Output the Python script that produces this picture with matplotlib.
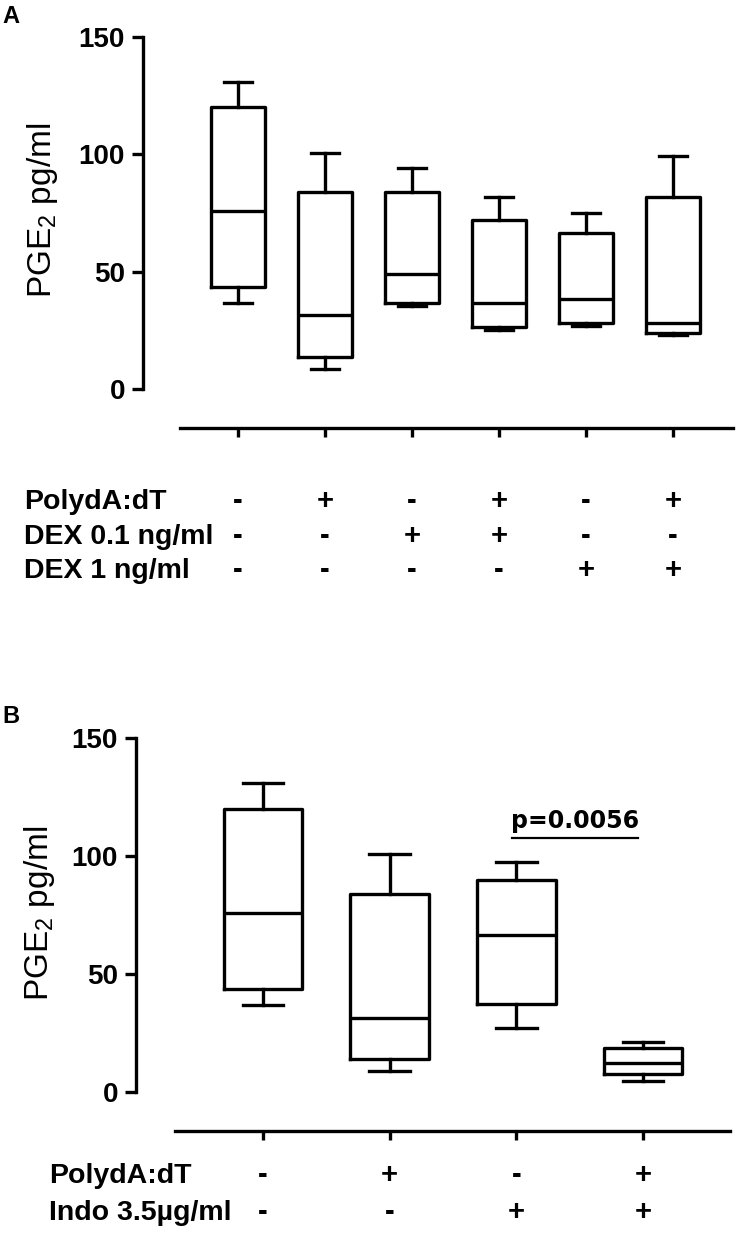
import matplotlib
matplotlib.use('Agg')
import matplotlib.pyplot as plt
import matplotlib.transforms as mtrans

plt.rcParams['font.family'] = ['Liberation Sans', 'DejaVu Sans']
plt.rcParams['mathtext.default'] = 'regular'

# ---------------- data ----------------
# Panel A
whishi_A = [131, 100.5, 94, 82, 75, 99.5]
q3_A = [120, 84, 84, 72, 66.5, 82]
med_A = [76, 31.5, 49, 36.5, 38.5, 28]
q1_A = [43.5, 13.5, 36.5, 26.5, 28, 24]
whislo_A = [36.5, 8.5, 35.5, 25, 27, 23]
rows_A = ['PolydA:dT', 'DEX 0.1 ng/ml', 'DEX 1 ng/ml']
signs_A = [['-', '+', '-', '+', '-', '+'],
           ['-', '-', '+', '+', '-', '-'],
           ['-', '-', '-', '-', '+', '+']]

# Panel B
whishi_B = [131, 101, 97.5, 21]
q3_B = [120, 84, 90, 18.5]
med_B = [76, 31.5, 66.5, 12.5]
q1_B = [43.5, 14, 37.5, 7.5]
whislo_B = [37, 9, 27, 4.5]
rows_B = ['PolydA:dT', 'Indo 3.5µg/ml']
signs_B = [['-', '+', '-', '+'],
           ['-', '-', '+', '+']]
p_text = 'p=0.0056'
p_pair = (2, 3)

yticks = [0, 50, 100, 150]
ylabel = 'PGE$_2$ pg/ml'

# ---------------- layout ----------------
W, H = 739, 1238
DPI = 100
fig = plt.figure(figsize=(W / DPI, H / DPI), dpi=DPI)
LW = 2.4


def add_ax(l, t, r, b):
    return fig.add_axes([l / W, 1 - b / H, (r - l) / W, (b - t) / H])


def make_panel(l, t, r, b, x0px, step, line_left, lo, q1, med, q3, hi,
               rows, signs, baselines, label_x, letter, letter_base, ylab_xy):
    ax = add_ax(l, t, r, b)
    n = len(med)
    stats = [dict(whislo=lo[i], q1=q1[i], med=med[i], q3=q3[i],
                  whishi=hi[i], fliers=[]) for i in range(n)]
    lp = dict(color='black', linewidth=LW)
    ax.bxp(stats, positions=list(range(n)), widths=0.62, capwidths=0.32,
           showfliers=False, boxprops=lp, whiskerprops=lp, capprops=lp,
           medianprops=lp, manage_ticks=False)
    ax.set_xlim((l - x0px) / step, (r - x0px) / step)
    ax.set_ylim(0, 150)
    for s in ['top', 'right']:
        ax.spines[s].set_visible(False)
    ax.spines['left'].set_linewidth(LW)
    ax.spines['left'].set_bounds(0, 150)
    ax.spines['bottom'].set_linewidth(LW)
    ax.spines['bottom'].set_position(('outward', 39 * 72 / DPI))
    ax.spines['bottom'].set_bounds((line_left - x0px) / step, (r - x0px) / step)
    ax.set_xticks(list(range(n)))
    ax.set_yticks(yticks)
    ax.set_yticklabels([str(v) for v in yticks], fontsize=20, fontweight='bold')
    ax.tick_params(axis='x', direction='out', length=6.5, width=LW,
                   labelbottom=False)
    ax.tick_params(axis='y', direction='out', length=8, width=LW, pad=5)
    ax.patch.set_alpha(0)

    tr = mtrans.blended_transform_factory(ax.transData, fig.transFigure)
    for row, sg, yb in zip(rows, signs, baselines):
        fig.text(label_x / W, 1 - yb / H, row, fontsize=20.5, fontweight='bold',
                 ha='left', va='baseline')
        for i, s in enumerate(sg):
            ax.text(i, 1 - yb / H, s, transform=tr, fontsize=21,
                    fontweight='bold', ha='center', va='baseline')

    fig.text(2 / W, 1 - letter_base / H, letter, fontsize=17,
             fontweight='bold', ha='left', va='baseline')
    fig.text(ylab_xy[0] / W, 1 - ylab_xy[1] / H, ylabel, rotation=90,
             fontsize=24, ha='center', va='center')
    return ax


axA = make_panel(143, 37, 733, 389, 238, 87, 180,
                 whislo_A, q1_A, med_A, q3_A, whishi_A,
                 rows_A, signs_A, [509, 544, 578], 24, 'A', 23, (43, 210))

axB = make_panel(136, 738, 730, 1092, 263, 126.7, 175,
                 whislo_B, q1_B, med_B, q3_B, whishi_B,
                 rows_B, signs_B, [1183, 1220], 49, 'B', 723, (40, 913))

# significance annotation in panel B
xa, xb = p_pair[0] - 0.035, p_pair[1] - 0.04
axB.plot([xa, xb], [107.6, 107.6], color='black', linewidth=1.6,
         clip_on=False)
axB.text((xa + xb) / 2, 112, p_text, ha='center', va='baseline',
         fontsize=17, fontweight='bold', family='DejaVu Sans')

fig.savefig('out.png', dpi=DPI, facecolor='white')
